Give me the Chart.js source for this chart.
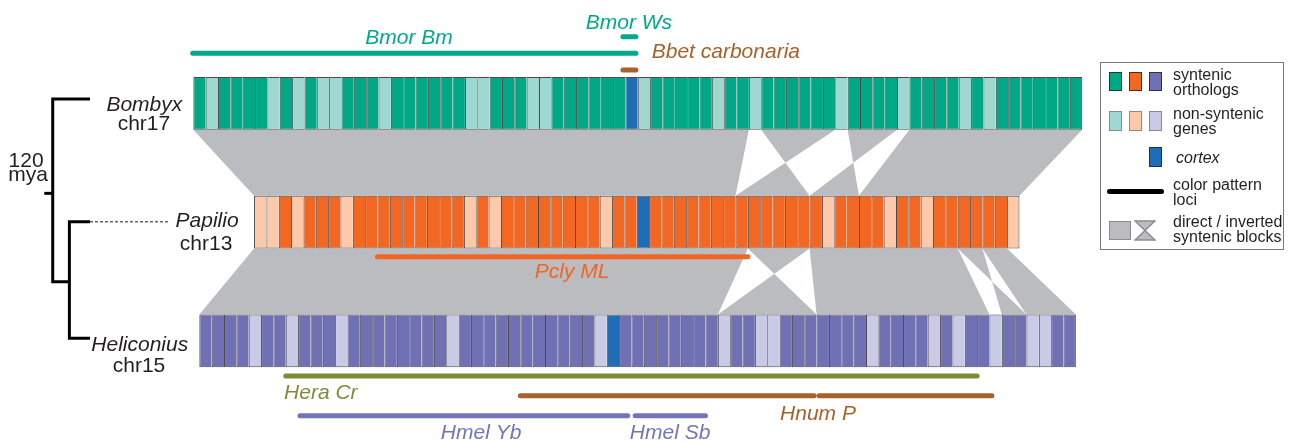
<!DOCTYPE html>
<html>
<head>
<meta charset="utf-8">
<script src="https://cdn.jsdelivr.net/npm/chart.js@4.4.1/dist/chart.umd.min.js"></script>
<style>
  html, body { margin: 0; padding: 0; background: #fff; }
  #wrap { position: relative; width: 1289px; height: 443px; overflow: hidden; }
  #wrap canvas { position: absolute; left: 0; top: 0; }
  .lg { position: absolute; font: 16px "Liberation Sans", Arial, sans-serif; line-height: 15px; color: #231f20; white-space: nowrap; }
  .sw { position: absolute; box-sizing: border-box; border: 1px solid rgba(35,31,32,0.8); }
</style>
</head>
<body>
<div id="wrap">
  <canvas id="syntenyChart" width="1289" height="443" style="width:1289px;height:443px"></canvas>

  <!-- legend -->
  <div style="position:absolute;left:1100px;top:62px;width:184px;height:188px;box-sizing:border-box;border:1.5px solid #777;"></div>
  <div class="sw" style="left:1109px;top:71.5px;width:12.5px;height:19px;background:#00a886"></div>
  <div class="sw" style="left:1129.3px;top:71.5px;width:12.5px;height:19px;background:#f26722"></div>
  <div class="sw" style="left:1149.3px;top:71.5px;width:12.5px;height:19px;background:#7070b5"></div>
  <div class="lg" style="left:1173px;top:66.5px">syntenic<br>orthologs</div>

  <div class="sw" style="left:1109px;top:111px;width:12.5px;height:20px;background:#9fd7d1;border-color:#8a8a8a"></div>
  <div class="sw" style="left:1129.3px;top:111px;width:12.5px;height:20px;background:#fdc9ab;border-color:#8a8a8a"></div>
  <div class="sw" style="left:1149.3px;top:111px;width:12.5px;height:20px;background:#c9cae6;border-color:#8a8a8a"></div>
  <div class="lg" style="left:1173px;top:105.5px">non-syntenic<br>genes</div>

  <div class="sw" style="left:1149.3px;top:147.3px;width:12.5px;height:20px;background:#1f6db6"></div>
  <div class="lg" style="left:1176px;top:149.7px;font-style:italic">cortex</div>

  <div style="position:absolute;left:1106.7px;top:189.2px;width:57.3px;height:5px;border-radius:2.5px;background:#000"></div>
  <div class="lg" style="left:1173px;top:177px">color pattern<br>loci</div>

  <div class="sw" style="left:1109px;top:220.7px;width:21.7px;height:19.3px;background:#bbbcbf;border:1.5px solid #8c8c8c"></div>
  <svg style="position:absolute;left:1134px;top:220px" width="22" height="21">
    <polygon points="1,1 21,1 1,20 21,20" fill="#bbbcbf" stroke="#8c8c8c" stroke-width="1.5" stroke-linejoin="miter"/>
  </svg>
  <div class="lg" style="left:1173px;top:213.5px">direct / inverted<br>syntenic blocks</div>
</div>

<script>
// gene order along each chromosome: s = syntenic ortholog, n = non-syntenic gene, c = cortex
const chromosomes = ['Bombyx chr17', 'Papilio chr13', 'Heliconius chr15'];
const bombyxGenes = ('snssssnsnsnnsssnssssssnnsssnnssssssc' +
                     'nsssssnssnssssssnssssnssssnsnsssssss').split('');
const papilioGenes = ('nnsnsssn' + 'sssssssss' + 'nsn' + 'ssssssss' + 'nss' + 'c' +
                      'ssssssssssssss' + 'nssssnssn' + 'ssssss' + 'n').split('');
const heliconiusGenes = ('ssssnssnsssn' + 'ssssssss' + 'n' + 'sssssssssss' + 'nc' +
                         'ssssssss' + 'nssnn' + 'sssssss' + 'nssssnsnssnssnnss').split('');

// syntenic blocks: [upper start, upper end, lower start, lower end] in gene positions;
// lower start > lower end means the block is inverted
const bombyxPapilioBlocks = [[0, 45, 0, 39], [46, 52, 45, 39], [53, 57, 49, 45], [58, 72, 49, 62]];
const papilioHeliconiusBlocks = [[0, 40, 0, 42], [40, 45, 50, 42], [45, 57, 50, 64], [57, 59, 67, 65], [59, 61, 67, 71]];

// color pattern loci (gene positions on their chromosome)
const lociNames = ['Bmor Bm', 'Bmor Ws', 'Bbet carbonaria', 'Pcly ML', 'Hera Cr', 'Hnum P', 'Hnum P', 'Hmel Yb', 'Hmel Sb'];
const lociChrom = [0, 0, 0, 1, 2, 2, 2, 2, 2];
const lociStart = [-0.05, 34.8, 34.8, 10, 7, 26, 50.2, 8.15, 35.3];
const lociEnd = [35.85, 35.85, 35.85, 40, 63, 49.8, 64.2, 34.7, 41];

// tree (x = depth, y = row)
const treeTipY = [-0.036, 0.997, 1.979];
const treeNodeY = [0.758, 1.502];   // root stub, inner node join
const treeDepth = { tip: -8.37, root: -11.39, inner: -10.04, stub: -12.07, dash: -1.89 };

// ---- layout / style ----
const X_MIN = -15.66, X_MAX = 88.75;
const Y_MIN = -0.87, Y_MAX = 2.86;
const HALF = 0.2215;
const rowOffset = [0, 4.917, 0.486];
const GRAY = '#bbbcbf';
const palette = [
    { s: '#00a886', n: '#9fd7d1', c: '#1f6db6' },
    { s: '#f26722', n: '#fdc9ab', c: '#1f6db6' },
    { s: '#7070b5', n: '#c9cae6', c: '#1f6db6' }
];
const lociColor = ['#00a98a', '#00a98a', '#a8612a', '#f26522', '#7f8a3b', '#a8612a', '#a8612a', '#7474ba', '#7474ba'];
const lociLane = [-0.421, -0.561, -0.28, 1.292, 2.296, 2.462, 2.462, 2.631, 2.631];

const labels = [
    { text: 'Bombyx', x: -3.97, y: 0.061, italic: true },
    { text: 'chr17', x: -4.0, y: 0.221 },
    { text: 'Papilio', x: 1.11, y: 1.042, italic: true },
    { text: 'chr13', x: 1.03, y: 1.235 },
    { text: 'Heliconius', x: -4.34, y: 2.083, italic: true },
    { text: 'chr15', x: -4.4, y: 2.26 },
    { text: '120', x: -13.55, y: 0.539 },
    { text: 'mya', x: -13.39, y: 0.65 },
    { text: 'Bmor Bm', x: 17.47, y: -0.499, italic: true, color: '#00a98a' },
    { text: 'Bmor Ws', x: 35.28, y: -0.623, italic: true, color: '#00a98a' },
    { text: 'Bbet carbonaria', x: 37.13, y: -0.379, italic: true, color: '#a8612a', align: 'left' },
    { text: 'Pcly ML', x: 30.68, y: 1.474, italic: true, color: '#f26522' },
    { text: 'Hera Cr', x: 7.35, y: 2.493, italic: true, color: '#7f8a3b', align: 'left' },
    { text: 'Hnum P', x: 50.6, y: 2.667, italic: true, color: '#a8612a' },
    { text: 'Hmel Yb', x: 23.31, y: 2.827, italic: true, color: '#7474ba' },
    { text: 'Hmel Sb', x: 38.62, y: 2.827, italic: true, color: '#7474ba' }
];

const datasets = [];

// gene cells
[bombyxGenes, papilioGenes, heliconiusGenes].forEach((genes, r) => {
    datasets.push({
        type: 'bar',
        label: chromosomes[r],
        indexAxis: 'y',
        grouped: false,
        order: 2,
        data: genes.map((g, i) => ({ x: [rowOffset[r] + i, rowOffset[r] + i + 1], y: r })),
        backgroundColor: genes.map(g => palette[r][g]),
        borderColor: 'rgba(30,28,28,0.8)',
        borderWidth: ctx => ({ top: 1, bottom: 1, left: 1, right: ctx.dataIndex === genes.length - 1 ? 1 : 0 }),
        borderSkipped: false,
        inflateAmount: 0,
        barPercentage: 1,
        categoryPercentage: 1,
        maxBarThickness: 52.6
    });
});

// syntenic blocks as filled shapes
function blockDataset(block, upper) {
    const yT = upper + HALF, yB = upper + 1 - HALF;
    const oT = rowOffset[upper], oB = rowOffset[upper + 1];
    return {
        type: 'line',
        order: 5,
        data: [
            { x: oT + block[0], y: yT }, { x: oT + block[1], y: yT },
            { x: oB + block[3], y: yB }, { x: oB + block[2], y: yB }
        ],
        fill: 'shape',
        backgroundColor: GRAY,
        borderWidth: 0,
        pointRadius: 0,
        tension: 0
    };
}
bombyxPapilioBlocks.forEach(b => datasets.push(blockDataset(b, 0)));
papilioHeliconiusBlocks.forEach(b => datasets.push(blockDataset(b, 1)));

// loci lines
lociNames.forEach((name, i) => {
    const o = rowOffset[lociChrom[i]];
    datasets.push({
        type: 'line',
        label: name,
        order: 0,
        data: [{ x: o + lociStart[i], y: lociLane[i] }, { x: o + lociEnd[i], y: lociLane[i] }],
        borderColor: lociColor[i],
        borderWidth: 5,
        borderCapStyle: 'round',
        pointRadius: 0,
        fill: false
    });
});

// tree
const treeLine = (pts, extra) => Object.assign({
    type: 'line', order: 0, data: pts, borderColor: '#000', borderWidth: 3,
    borderCapStyle: 'butt', borderJoinStyle: 'miter', pointRadius: 0, fill: false
}, extra || {});
const d = treeDepth;
datasets.push(treeLine([
    { x: d.tip, y: treeTipY[0] }, { x: d.root, y: treeTipY[0] },
    { x: d.root, y: treeNodeY[1] }, { x: d.inner, y: treeNodeY[1] }
]));
datasets.push(treeLine([
    { x: d.tip, y: treeTipY[1] }, { x: d.inner, y: treeTipY[1] },
    { x: d.inner, y: treeTipY[2] }, { x: d.tip, y: treeTipY[2] }
]));
datasets.push(treeLine([{ x: d.stub, y: treeNodeY[0] }, { x: d.root, y: treeNodeY[0] }]));
datasets.push(treeLine([{ x: d.tip, y: treeTipY[1] }, { x: d.dash, y: treeTipY[1] }],
    { borderColor: '#666', borderWidth: 1.5, borderDash: [3, 2] }));

const labelPlugin = {
    id: 'textLabels',
    afterDatasetsDraw(chart) {
        const { ctx, scales: { x, y } } = chart;
        ctx.save();
        ctx.textBaseline = 'alphabetic';
        labels.forEach(l => {
            ctx.font = (l.italic ? 'italic ' : '') + '21px "Liberation Sans", Arial, sans-serif';
            ctx.fillStyle = l.color || '#231f20';
            ctx.textAlign = l.align || 'center';
            ctx.fillText(l.text, x.getPixelForValue(l.x), y.getPixelForValue(l.y));
        });
        ctx.restore();
    }
};

const canvas = document.getElementById('syntenyChart');

new Chart(canvas, {
    type: 'scatter',
    data: { datasets: datasets },
    options: {
        responsive: false,
        devicePixelRatio: 1,
        animation: false,
        events: [],
        layout: { padding: 0, autoPadding: false },
        scales: {
            x: { type: 'linear', min: X_MIN, max: X_MAX, display: false, offset: false, bounds: 'data', grace: 0 },
            y: { type: 'linear', min: Y_MIN, max: Y_MAX, reverse: true, display: false, offset: false,
                 bounds: 'data', grace: 0, ticks: { stepSize: 1 } }
        },
        plugins: {
            legend: { display: false },
            tooltip: { enabled: false },
            title: { display: false }
        }
    },
    plugins: [labelPlugin]
});
</script>
</body>
</html>
